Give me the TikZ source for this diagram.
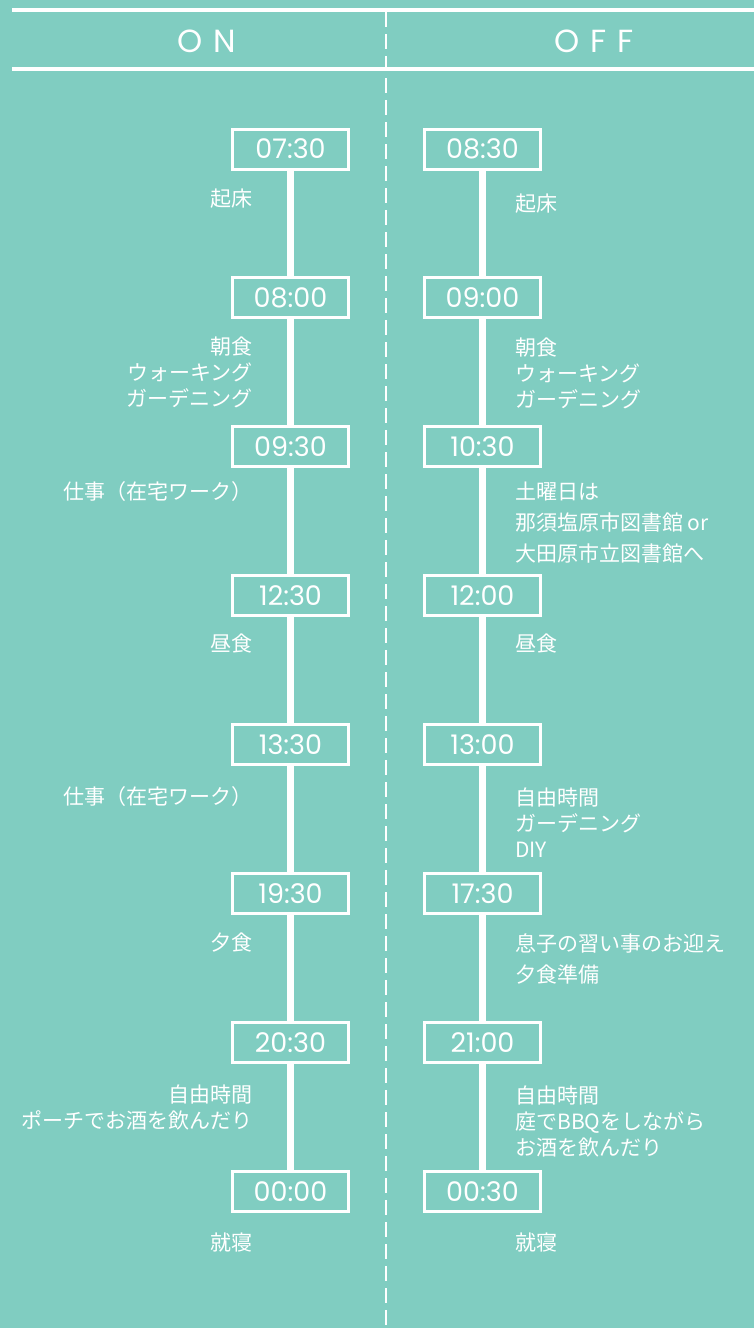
\documentclass[tikz,border=0pt]{standalone}
\usepackage{fontspec}
\usepackage{xcolor}
\setmainfont{Poppins}
\newfontfamily\jpfont{Noto Sans CJK JP}
\newfontfamily\headfont[LetterSpace=35]{Poppins}
\definecolor{mint}{HTML}{80CDC1}

\begin{document}
\begin{tikzpicture}[x=1pt, y=-1pt,
    timebox/.style={draw=white, line width=3pt, fill=mint, text=white, inner sep=0pt,
      minimum width=116pt, minimum height=40pt, font=\fontsize{27}{27}\selectfont},
    stem/.style={draw=white, line width=7pt},
    note/.style={text=white, inner sep=0pt, font=\jpfont\fontsize{21}{26}\selectfont},
    widenote/.style={note, font=\jpfont\fontsize{21}{31}\selectfont},
    onnote/.style={note, anchor=east, align=right},
    offnote/.style={note, anchor=west, align=left}]
  \fill[mint] (0,0) rectangle (754,1328);
  \useasboundingbox (0,0) rectangle (754,1328);

  % header
  \draw[white, line width=4pt] (12,9.5) -- (754,9.5);
  \draw[white, line width=4pt] (12,69) -- (754,69);
  \draw[white, line width=2.5pt, dash pattern=on 15pt off 7pt] (386,12) -- (386,1328);
  \node[text=white, font=\headfont\fontsize{32}{32}\selectfont] (on) at (207,41) {ON};
  \node[text=white, font=\headfont\fontsize{32}{32}\selectfont] (off) at (594,41) {OFF};

  % time boxes
  \foreach \t [count=\k from 0] in {07:30,08:00,09:30,12:30,13:30,19:30,20:30,00:00}
    \node[timebox] (on\k) at (290.5,{149+148.9*\k}) {\t};
  \foreach \t [count=\k from 0] in {08:30,09:00,10:30,12:00,13:00,17:30,21:00,00:30}
    \node[timebox] (off\k) at (482.5,{149+148.9*\k}) {\t};
  \foreach \k in {1,...,7}{
    \pgfmathtruncatemacro\p{\k-1}
    \draw[stem] (on\p.south) -- (on\k.north);
    \draw[stem] (off\p.south) -- (off\k.north);
  }

  % ON side
  \node[onnote] (onwake) at (253,199) {起床};
  \node[onnote] (onmorning) at (253,372.5) {朝食\\ウォーキング\\ガーデニング};
  \node[onnote] (onwork) at (253,492) {仕事（在宅ワーク）};
  \node[onnote] (onlunch) at (253,644) {昼食};
  \node[onnote] (onwork2) at (253,797) {仕事（在宅ワーク）};
  \node[onnote] (ondinner) at (253,943) {夕食};
  \node[onnote] (onfree) at (253,1107) {自由時間\\ポーチでお酒を飲んだり};
  \node[onnote] (onsleep) at (253,1243) {就寝};

  % OFF side
  \node[offnote] (offwake) at (515,204) {起床};
  \node[offnote] (offmorning) at (515,373) {朝食\\ウォーキング\\ガーデニング};
  \node[offnote, widenote] (offlibrary) at (515,523) {土曜日は\\那須塩原市図書館 or\\大田原市立図書館へ};
  \node[offnote] (offlunch) at (515,644) {昼食};
  \node[offnote] (offfree) at (515,823) {自由時間\\ガーデニング\\DIY};
  \node[offnote, widenote] (offpickup) at (515,958.5) {息子の習い事のお迎え\\夕食準備};
  \node[offnote] (offbbq) at (515,1121) {自由時間\\庭でBBQをしながら\\お酒を飲んだり};
  \node[offnote] (offsleep) at (515,1243) {就寝};
\end{tikzpicture}
\end{document}
